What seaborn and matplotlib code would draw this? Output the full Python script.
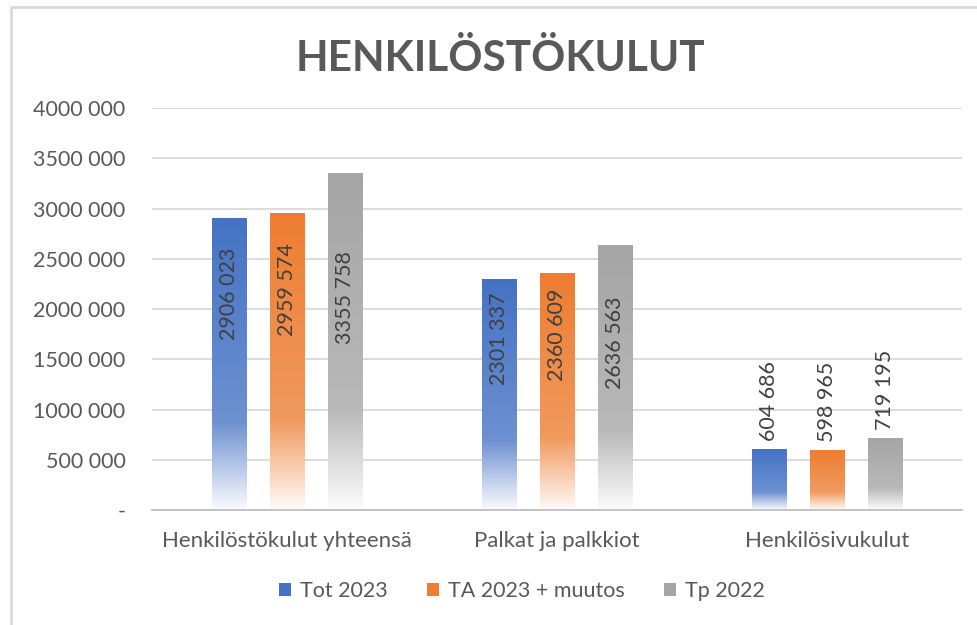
import numpy as np
import pandas as pd
import matplotlib
matplotlib.use('Agg')
from matplotlib import pyplot as plt
from matplotlib.patches import Patch
from matplotlib.colors import to_rgb
from matplotlib.ticker import FuncFormatter
import seaborn as sns

categories = ['Henkilöstökulut yhteensä', 'Palkat ja palkkiot', 'Henkilösivukulut']
series = ['Tot 2023', 'TA 2023 + muutos', 'Tp 2022']
tot_2023 = [2906023, 2301337, 604686]
ta_2023 = [2959574, 2360609, 598965]
tp_2022 = [3355758, 2636563, 719195]
colors = ['#4472C4', '#ED7D31', '#A5A5A5']

df = pd.DataFrame({
    'kategoria': categories * 3,
    'sarja': [s for s in series for _ in categories],
    'arvo': tot_2023 + ta_2023 + tp_2022,
})

sns.set_style('white')
plt.rcParams['font.family'] = ['Lato', 'DejaVu Sans']

fig = plt.figure(figsize=(9.78, 6.25), dpi=100)
ax = fig.add_axes([0.1554, 0.184, 0.828, 0.6432])

sns.barplot(data=df, x='kategoria', y='arvo', hue='sarja', palette=colors,
            width=0.645, gap=0.41, legend=False, ax=ax)

ax.set_ylim(0, 4000000)
ax.set_yticks(np.arange(0, 4000001, 500000))


def num_fmt(v):
    # excel style: only the last group of three is split off
    s = str(int(round(v)))
    if len(s) <= 3:
        return s
    return s[:-3] + ' ' + s[-3:]


ax.yaxis.set_major_formatter(FuncFormatter(lambda v, pos: '-' if v == 0 else num_fmt(v)))
ax.grid(axis='y', color='#D9D9D9', linewidth=1.3)
ax.set_axisbelow(True)
for side in ['top', 'right', 'left']:
    ax.spines[side].set_visible(False)
ax.spines['bottom'].set_color('#BFBFBF')
ax.spines['bottom'].set_linewidth(1.3)
ax.tick_params(axis='both', length=0, labelcolor='#595959')
ax.tick_params(axis='y', pad=19, labelsize=15.5)
ax.tick_params(axis='x', pad=15, labelsize=16)
ax.set_xlabel('')
ax.set_ylabel('')

# gradient fill, solid at top, fading to white at the base
t = np.linspace(0, 1, 256)
mix = np.interp(t, [0, 0.7, 0.85, 1.0], [0.0, 0.22, 0.6, 0.97])
label_frac = [0.74, 0.74, 0.63]
bars = list(ax.patches)
for i, p in enumerate(bars):
    si = i // len(categories)
    base = np.array(to_rgb(colors[si]))
    grad = base[None, :] * (1 - mix[:, None]) + mix[:, None]
    x0, w, h = p.get_x(), p.get_width(), p.get_height()
    im = ax.imshow(grad[:, None, :], extent=[x0, x0 + w, 0, h], origin='upper',
                   aspect='auto', zorder=2, interpolation='bilinear')
    im.set_clip_path(p)
    p.set_facecolor('none')
    p.set_edgecolor('none')
    label = num_fmt(h)
    cx = x0 + w / 2
    if h > 1500000:
        ax.text(cx, h * label_frac[si], label, rotation=90, ha='center', va='center',
                fontsize=15.5, color='#404040', zorder=3)
    else:
        ax.text(cx, h + 80000, label, rotation=90, ha='center', va='bottom',
                fontsize=15.5, color='#404040', zorder=3)

ax.set_xlim(-0.5, 2.5)

fig.text(0.512, 0.907, 'HENKILÖSTÖKULUT', ha='center', va='center',
         fontsize=30.5, fontweight='bold', color='#595959')

handles = [Patch(facecolor=c, edgecolor='none', label=s) for s, c in zip(series, colors)]
fig.legend(handles=handles, loc='center', bbox_to_anchor=(522 / 978, 1 - 591 / 625),
           ncol=3, frameon=False, fontsize=15.5, handlelength=0.55, handleheight=0.55,
           handletextpad=0.45, columnspacing=1.8, labelcolor='#595959')

# chart border (top and left edges visible in the screenshot)
fig.add_artist(plt.Line2D([11 / 978, 1], [1 - 7 / 625, 1 - 7 / 625],
                          transform=fig.transFigure, color='#D9D9D9', linewidth=2))
fig.add_artist(plt.Line2D([11 / 978, 11 / 978], [0, 1 - 7 / 625],
                          transform=fig.transFigure, color='#D9D9D9', linewidth=2))

fig.savefig('out.png', dpi=100)
